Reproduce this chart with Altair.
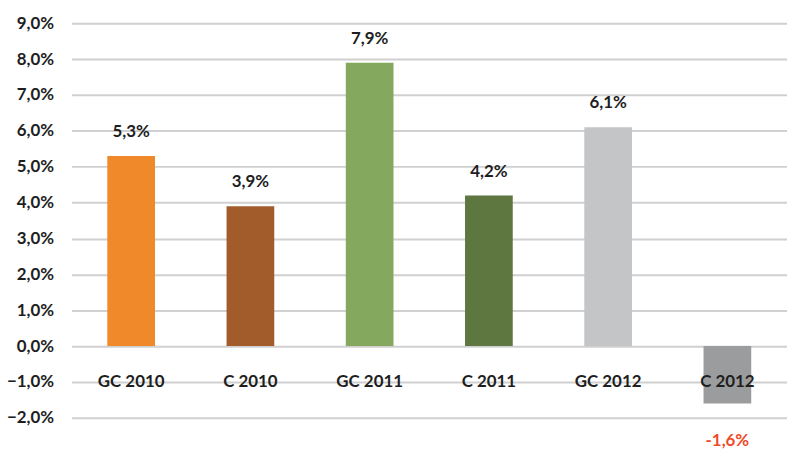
import altair as alt
import pandas as pd

categories = ["GC 2010", "C 2010", "GC 2011", "C 2011", "GC 2012", "C 2012"]
values = [5.3, 3.9, 7.9, 4.2, 6.1, -1.6]
colors = ["#f0892a", "#a25b2b", "#84a85d", "#5e7640", "#c4c5c7", "#9b9c9e"]
y_ticks = [-2, -1, 0, 1, 2, 3, 4, 5, 6, 7, 8, 9]

df = pd.DataFrame({"cat": categories, "value": values, "color": colors})
df["label"] = df["value"].map(lambda v: f"{v:.1f}".replace(".", ",") + "%")
df["cat_y"] = -1.0

FONT = "Lato"

x = alt.X("cat:N", sort=categories, axis=None,
          scale=alt.Scale(paddingInner=0.6, paddingOuter=0.3))
y_scale = alt.Scale(domain=[-2, 9], nice=False, zero=False)
y_axis = alt.Axis(values=y_ticks, labelExpr="replace(format(datum.value, '.1f'), '.', ',') + '%'",
                  domain=False, ticks=False, labelPadding=18, labelOverlap=False,
                  labelFont=FONT, labelFontSize=17, labelFontWeight="bold",
                  labelColor="#1e1e1e", gridColor="#d0d0d0", gridWidth=2)


def y_enc(field):
    return alt.Y(field, scale=y_scale, axis=y_axis, title=None)


base = alt.Chart(df)

bars = base.mark_bar().encode(
    x=x,
    y=y_enc("value:Q"),
    y2=alt.datum(0),
    color=alt.Color("color:N", scale=None),
)

pos_labels = base.transform_filter("datum.value >= 0").mark_text(
    dy=-24, font=FONT, fontSize=17, fontWeight="bold", color="#1e1e1e"
).encode(x=x, y=y_enc("value:Q"), text="label:N")

neg_labels = base.transform_filter("datum.value < 0").mark_text(
    dy=38, font=FONT, fontSize=17, fontWeight="bold", color="#f04a2a"
).encode(x=x, y=y_enc("value:Q"), text="label:N")

cat_labels = base.mark_text(
    font=FONT, fontSize=17, fontWeight="bold", color="#1e1e1e", baseline="middle"
).encode(x=x, y=y_enc("cat_y:Q"), text="cat:N")

chart = alt.layer(bars, pos_labels, neg_labels, cat_labels).properties(
    width=720, height=397,
    background="white",
    autosize=alt.AutoSizeParams(type="none"),
    padding={"left": 72, "top": 22, "right": 0, "bottom": 34},
).configure_view(stroke="transparent", strokeWidth=0).configure_axis(domain=False)

chart.save("out.html", embed_options={"renderer": "svg", "actions": False})
